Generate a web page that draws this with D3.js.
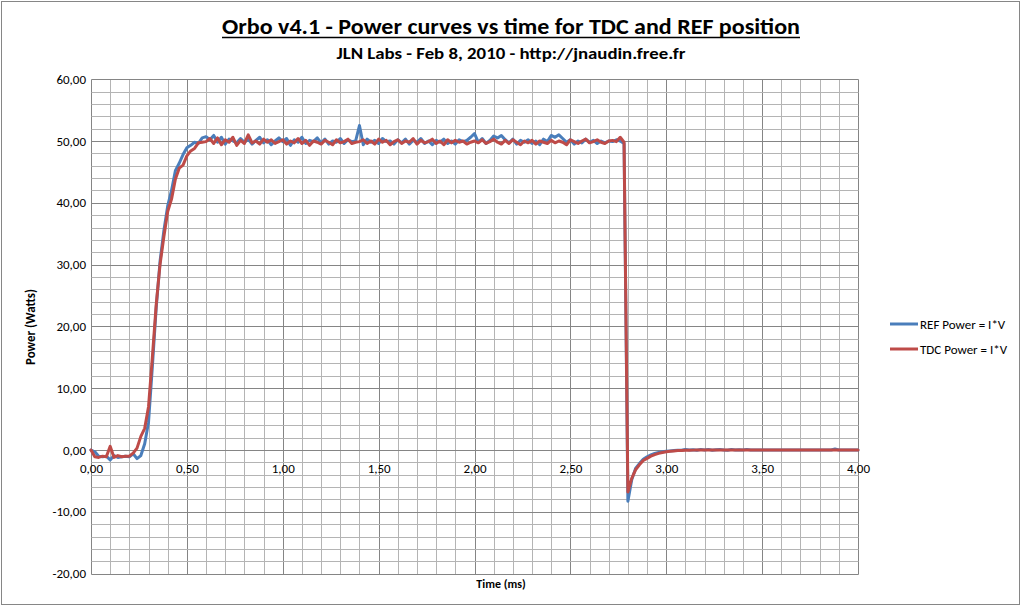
<!DOCTYPE html>
<html>
<head>
<meta charset="utf-8">
<script src="https://cdn.jsdelivr.net/npm/d3@7"></script>
<style>
  body { margin: 0; background: #fff; }
  svg text { font-family: Carlito, Lato, "Liberation Sans", sans-serif; fill: #000; }
</style>
</head>
<body>
<div id="chart"></div>
<script>
// sampled every 0.02 ms, 0.00 .. 4.00
const sampleStep = 0.02;

const refPower = [
  0.0, -0.3, -1.0, -1.1, -1.0, -1.6, -0.9, -1.2, -1.1, -1.0,
  -1.1, -0.6, -1.4, -0.9, 1.0, 4.5, 13.5, 23.0, 30.5, 35.5,
  39.5, 42.0, 45.2, 46.4, 47.8, 48.9, 49.3, 49.8, 49.6, 50.5,
  50.7, 50.2, 50.9, 49.8, 50.6, 49.5, 50.3, 50.0, 49.7, 50.4,
  49.8, 50.3, 49.5, 50.1, 50.6, 49.7, 50.2, 49.4, 50.0, 50.5,
  49.9, 50.4, 49.3, 50.2, 49.8, 50.6, 49.6, 50.1, 49.9, 50.5,
  49.7, 50.3, 49.5, 50.0, 49.8, 50.4, 49.6, 50.2, 49.9, 50.0,
  52.5, 49.4, 50.3, 49.8, 50.1, 49.6, 50.4, 49.9, 50.0, 49.5,
  50.2, 49.7, 50.3, 49.5, 50.1, 49.8, 50.4, 49.6, 50.0, 49.4,
  50.1, 49.8, 50.3, 49.6, 50.0, 49.5, 50.2, 49.9, 50.1, 50.6,
  51.2, 49.8, 50.4, 49.6, 50.1, 50.8, 50.5, 50.9, 50.2, 49.7,
  50.3, 49.5, 50.1, 49.8, 50.2, 49.6, 50.0, 49.4, 50.3, 49.9,
  50.9, 50.6, 51.0, 50.4, 49.8, 50.2, 49.5, 50.0, 49.7, 50.3,
  49.8, 50.1, 49.6, 50.0, 49.7, 50.0, 49.9, 50.2, 50.0, 49.6,
  -8.3, -4.8, -3.0, -2.2, -1.5, -1.1, -0.8, -0.55, -0.4, -0.3,
  -0.2, -0.15, -0.1, -0.05, -0.05, 0.1, 0.0, 0.05, -0.05, 0.1,
  0.0, 0.1, -0.05, 0.05, 0.1, 0.0, -0.05, 0.1, 0.0, 0.05,
  0.0, 0.1, 0.0, 0.0, 0.0, 0.0, 0.0, 0.0, 0.0, 0.0,
  0.0, 0.0, 0.0, 0.0, 0.0, 0.0, 0.0, 0.0, 0.0, 0.0,
  0.0, 0.0, 0.0, 0.0, 0.15, 0.0, 0.0, 0.0, 0.0, 0.0,
  0.0
];

const tdcPower = [
  0.0, -1.1, -1.2, -1.0, -1.1, 0.6, -1.2, -0.9, -1.1, -1.0,
  -1.0, -0.5, 0.3, 2.2, 3.5, 7.0, 15.0, 23.5, 30.0, 34.5,
  38.6, 40.6, 43.8, 45.6, 46.1, 47.6, 48.4, 48.8, 49.7, 49.8,
  49.9, 50.4, 49.6, 50.5, 49.4, 50.2, 49.8, 50.6, 49.3, 50.1,
  49.6, 51.0, 49.7, 50.0, 49.5, 50.3, 49.8, 50.2, 49.6, 49.9,
  50.2, 49.5, 50.0, 49.7, 50.4, 49.6, 50.1, 49.3, 50.0, 49.8,
  49.5, 50.1, 49.8, 49.4, 50.2, 49.7, 49.9, 50.3, 49.6, 49.8,
  49.9, 50.2, 49.6, 50.0, 49.5, 50.3, 49.8, 50.1, 49.4, 49.9,
  50.2, 49.6, 50.0, 49.8, 50.4, 49.5, 50.1, 49.7, 49.9, 50.3,
  49.6, 50.0, 49.4, 50.2, 49.7, 50.1, 49.8, 50.0, 49.5, 49.8,
  50.0, 49.7, 50.2, 49.6, 49.9, 50.3, 49.8, 49.5, 50.1, 49.6,
  50.2, 49.8, 49.4, 50.0, 49.7, 50.1, 49.5, 50.0, 49.8, 49.6,
  50.1, 49.7, 50.0, 49.8, 49.4, 50.2, 49.9, 49.6, 50.0, 50.3,
  49.7, 49.9, 50.2, 49.8, 49.6, 50.0, 50.1, 49.9, 50.6, 49.8,
  -6.8, -4.6, -3.2, -2.4, -1.7, -1.35, -1.0, -0.75, -0.55, -0.4,
  -0.27, -0.2, -0.15, -0.1, -0.08, -0.05, -0.05, -0.02, 0.0, 0.0,
  0.0, 0.0, 0.0, 0.0, 0.0, 0.0, 0.0, 0.0, 0.0, 0.0,
  0.0, 0.0, 0.0, 0.0, 0.0, 0.0, 0.0, 0.0, 0.0, 0.0,
  0.0, 0.0, 0.0, 0.0, 0.0, 0.0, 0.0, 0.0, 0.0, 0.0,
  0.0, 0.0, 0.0, 0.0, 0.0, 0.0, 0.0, 0.0, 0.0, 0.0,
  0.0
];

const xTicks = [0, 0.5, 1, 1.5, 2, 2.5, 3, 3.5, 4];
const yTicks = [-20, -10, 0, 10, 20, 30, 40, 50, 60];
const seriesNames = ["REF Power = I*V", "TDC Power = I*V"];
const seriesColors = ["#4a7ebb", "#be4b48"];

const width = 1024;
const height = 610;

const svg = d3.select("#chart").append("svg")
  .attr("width", width)
  .attr("height", height);

// outer chart border
svg.append("rect")
  .attr("x", 1.5).attr("y", 1.5)
  .attr("width", 1018).attr("height", 603)
  .attr("fill", "#fff")
  .attr("stroke", "#868686");

const x = d3.scaleLinear().domain([0, 4]).range([91, 858]);
const y = d3.scaleLinear().domain([-20, 60]).range([573.6, 79.2]);
const px = v => Math.round(v) + 0.5;

// minor + major gridlines
const grid = svg.append("g");
d3.range(0, 41).forEach(i => {
  const t = i / 10;
  grid.append("line")
    .attr("x1", px(x(t))).attr("x2", px(x(t)))
    .attr("y1", px(y(60))).attr("y2", px(y(-20)))
    .attr("stroke", i % 5 === 0 ? "#858585" : "#b4b4b4")
    .attr("stroke-width", 1);
});
d3.range(0, 41).forEach(i => {
  const v = -20 + i * 2;
  grid.append("line")
    .attr("x1", px(x(0))).attr("x2", px(x(4)))
    .attr("y1", px(y(v))).attr("y2", px(y(v)))
    .attr("stroke", i % 5 === 0 ? "#858585" : "#b4b4b4")
    .attr("stroke-width", 1);
});

const fmt = v => d3.format(".2f")(v).replace(".", ",").replace("−", "-");

// y axis labels
const yAxis = svg.append("g")
  .attr("transform", `translate(${x(0)},0)`)
  .call(d3.axisLeft(y).tickValues(yTicks).tickSize(0).tickPadding(5).tickFormat(fmt));
yAxis.select(".domain").remove();
yAxis.selectAll("text").attr("font-size", 13).attr("font-family", null);

// x axis labels, sitting on the zero line
const xAxis = svg.append("g")
  .attr("transform", `translate(0,${y(0)})`)
  .call(d3.axisBottom(x).tickValues(xTicks).tickSize(0).tickPadding(14).tickFormat(fmt));
xAxis.select(".domain").remove();
xAxis.selectAll("text").attr("font-size", 13).attr("font-family", null);

// series
const line = d3.line()
  .x((d, i) => x(i * sampleStep))
  .y(d => y(d));

[refPower, tdcPower].forEach((data, k) => {
  svg.append("path")
    .datum(data)
    .attr("fill", "none")
    .attr("stroke", seriesColors[k])
    .attr("stroke-width", 3)
    .attr("stroke-linejoin", "round")
    .attr("stroke-linecap", "round")
    .attr("d", line);
});

// titles
svg.append("text")
  .attr("x", 511).attr("y", 34)
  .attr("text-anchor", "middle")
  .attr("font-size", 22).attr("font-weight", "bold")
  .attr("textLength", 578).attr("lengthAdjust", "spacingAndGlyphs")
  .text("Orbo v4.1 - Power curves vs time for TDC and REF position");
svg.append("line")
  .attr("x1", 222).attr("x2", 800)
  .attr("y1", 37.5).attr("y2", 37.5)
  .attr("stroke", "#000").attr("stroke-width", 1.5);

svg.append("text")
  .attr("x", 511).attr("y", 59)
  .attr("text-anchor", "middle")
  .attr("font-size", 16).attr("font-weight", "bold")
  .attr("textLength", 349).attr("lengthAdjust", "spacingAndGlyphs")
  .text("JLN Labs - Feb 8, 2010 - http://jnaudin.free.fr");

svg.append("text")
  .attr("transform", "translate(35,327) rotate(-90)")
  .attr("text-anchor", "middle")
  .attr("font-size", 13).attr("font-weight", "bold")
  .attr("textLength", 76).attr("lengthAdjust", "spacingAndGlyphs")
  .text("Power (Watts)");

svg.append("text")
  .attr("x", 501).attr("y", 588)
  .attr("text-anchor", "middle")
  .attr("font-size", 12).attr("font-weight", "bold")
  .text("Time (ms)");

// legend
const legend = svg.append("g");
seriesNames.forEach((name, k) => {
  const ly = 324 + k * 25;
  legend.append("line")
    .attr("x1", 890).attr("x2", 918)
    .attr("y1", ly).attr("y2", ly)
    .attr("stroke", seriesColors[k])
    .attr("stroke-width", 3);
  legend.append("text")
    .attr("x", 920).attr("y", ly + 4.5)
    .attr("font-size", 13)
    .text(name);
});
</script>
</body>
</html>
